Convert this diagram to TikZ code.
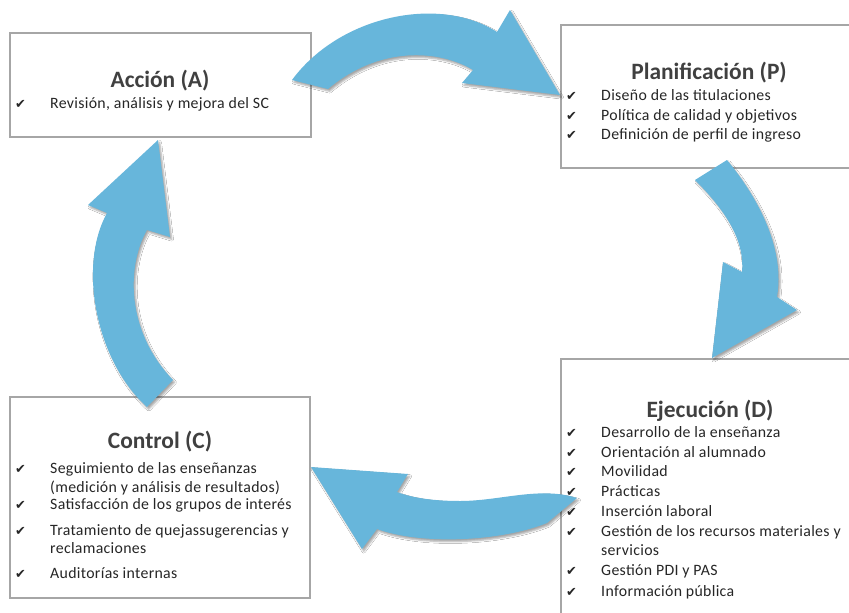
\documentclass[tikz,border=0pt]{standalone}
\usepackage{fontspec}
\setmainfont{Carlito}
\newfontfamily\symfont{DejaVu Sans}
\usetikzlibrary{shadows.blur}

\definecolor{flecha}{RGB}{103, 182, 219}
\definecolor{marco}{RGB}{166, 166, 166}
\definecolor{texto}{RGB}{38, 38, 38}
\definecolor{titgris}{RGB}{64, 64, 64}

\tikzset{
	caja/.style = {draw = marco, line width = 2.2pt, fill = white, inner sep = 0},
	titulo/.style = {anchor = base, inner sep = 0, text = titgris, font = \fontsize{20}{24}\selectfont\bfseries},
	item/.style = {anchor = base west, inner sep = 0, text = texto, font = \fontsize{13.5}{16}\selectfont\addfontfeatures{LetterSpace = 2}},
	visto/.style = {anchor = base west, inner sep = 0, text = texto, font = \symfont\fontsize{11}{12}\selectfont},
	flechaAzul/.style = {fill = flecha, blur shadow = {shadow xshift = 1.5pt, shadow yshift = -2pt, shadow blur radius = 1.5pt, shadow opacity = 35}}
}

\begin{document}
\begin{tikzpicture}[x = 0.3 mm, y = -0.3 mm]

	\clip (0, 0) rectangle (849, 612);
	\fill [white] (0, 0) rectangle (849, 612);

	% Boxes
	
	\node [caja, minimum width = 90.3 mm, minimum height = 31.2 mm] (acc) at (160.5, 85) {};
	\node [caja, minimum width = 89.1 mm, minimum height = 42.9 mm] (plan) at (709.5, 96.5) {};
	\node [caja, minimum width = 89.1 mm, minimum height = 84.3 mm] (ejec) at (709.5, 499.5) {};
	\node [caja, minimum width = 90 mm, minimum height = 60.3 mm] (ctrl) at (160, 497.5) {};
	
	% Titles
	
	\node [titulo] (accTit) at (160, 87) {Acción (A)};
	\node [titulo] (planTit) at (709, 79) {Planificación (P)};
	\node [titulo] (ejecTit) at (710, 417) {Ejecución (D)};
	\node [titulo] (ctrlTit) at (160, 448) {Control (C)};
	
	% Items
	
	\foreach \y/\t [count = \i] in {108/{Revisión, análisis y mejora del SC}}
		\node [item] (itA\i) at (50, \y) {\t};
	\foreach \y [count = \i] in {108}
		\node [visto] (vA\i) at (15, \y) {✔};
	
	\foreach \y/\t [count = \i] in {100/{Diseño de las titulaciones}, 120/{Política de calidad y objetivos}, 139/{Definición de perfil de ingreso}}
		\node [item] (itP\i) at (601, \y) {\t};
	\foreach \y [count = \i] in {100, 120, 139}
		\node [visto] (vP\i) at (566, \y) {✔};
	
	\foreach \y/\t [count = \i] in {437/{Desarrollo de la enseñanza}, 457/{Orientación al alumnado}, 476/{Movilidad}, 496/{Prácticas}, 516/{Inserción laboral}, 536/{Gestión de los recursos materiales y}, 555/{servicios}, 575/{Gestión PDI y PAS}, 596/{Información pública}}
		\node [item] (itD\i) at (601, \y) {\t};
	\foreach \y [count = \i] in {437, 457, 476, 496, 516, 536, 575, 596}
		\node [visto] (vD\i) at (566, \y) {✔};
	
	\foreach \y/\t [count = \i] in {473/{Seguimiento de las enseñanzas}, 492/{(medición y análisis de resultados)}, 509/{Satisfacción de los grupos de interés}, 535/{Tratamiento de quejassugerencias y}, 553/{reclamaciones}, 578/{Auditorías internas}}
		\node [item] (itC\i) at (50, \y) {\t};
	\foreach \y [count = \i] in {473, 509, 535, 578}
		\node [visto] (vC\i) at (15, \y) {✔};
	
	% Arrows
	
	\fill [flechaAzul] (292, 80) .. controls (340, 15) and (440, -5) .. (497, 32) -- (510, 10) -- (560, 95) -- (462, 83) -- (473, 70) .. controls (440, 50) and (380, 45) .. (328, 89) -- cycle;
	
	\fill [flechaAzul] (695, 180) -- (727, 160) .. controls (760, 200) and (785, 250) .. (777, 297) -- (797, 310) -- (712, 358) -- (723, 262) -- (742, 272) .. controls (745, 240) and (725, 210) .. (695, 180) -- cycle;
	
	\fill [flechaAzul] (577, 498) .. controls (540, 486) and (500, 501) .. (460, 501) .. controls (430, 501) and (410, 497) .. (397, 492) -- (408, 474) -- (311, 467) -- (362, 549) -- (377, 529) .. controls (420, 545) and (500, 542) .. (547, 523) -- cycle;
	
	\fill [flechaAzul] (147, 407) .. controls (95, 360) and (78, 265) .. (107, 213) -- (88, 205) -- (158, 140) -- (170, 237) -- (147, 230) .. controls (127, 265) and (125, 330) .. (173, 380) -- cycle;

\end{tikzpicture}
\end{document}
